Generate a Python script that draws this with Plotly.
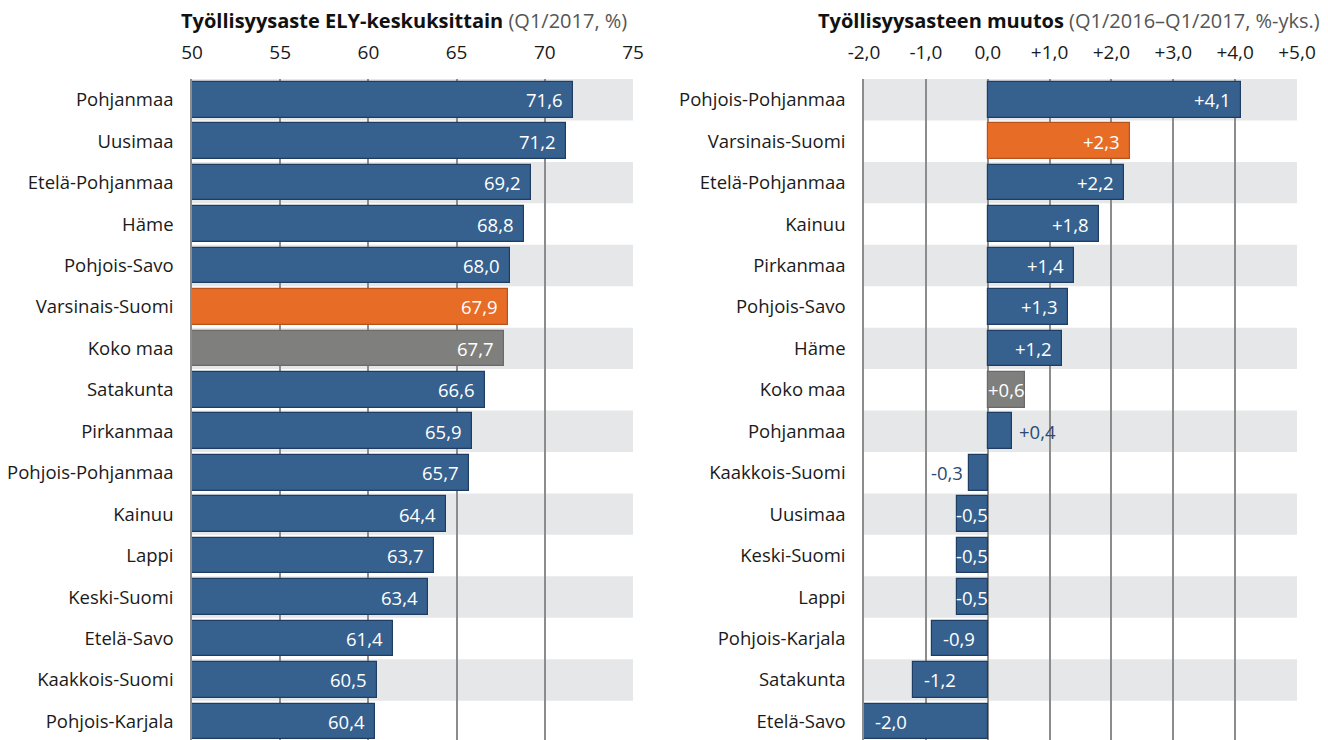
import plotly.graph_objects as go

# ---------------- data ----------------
left_categories = ["Pohjanmaa", "Uusimaa", "Etelä-Pohjanmaa", "Häme", "Pohjois-Savo",
                   "Varsinais-Suomi", "Koko maa", "Satakunta", "Pirkanmaa",
                   "Pohjois-Pohjanmaa", "Kainuu", "Lappi", "Keski-Suomi",
                   "Etelä-Savo", "Kaakkois-Suomi", "Pohjois-Karjala"]
left_values = [71.6, 71.2, 69.2, 68.8, 68.0, 67.9, 67.7, 66.6, 65.9, 65.7,
               64.4, 63.7, 63.4, 61.4, 60.5, 60.4]

right_categories = ["Pohjois-Pohjanmaa", "Varsinais-Suomi", "Etelä-Pohjanmaa", "Kainuu",
                    "Pirkanmaa", "Pohjois-Savo", "Häme", "Koko maa", "Pohjanmaa",
                    "Kaakkois-Suomi", "Uusimaa", "Keski-Suomi", "Lappi",
                    "Pohjois-Karjala", "Satakunta", "Etelä-Savo"]
right_values = [4.1, 2.3, 2.2, 1.8, 1.4, 1.3, 1.2, 0.6, 0.4, -0.3, -0.5, -0.5,
                -0.5, -0.9, -1.2, -2.0]

left_ticks = [50, 55, 60, 65, 70, 75]
left_ticktext = ["50", "55", "60", "65", "70", "75"]
right_ticks = [-2, -1, 0, 1, 2, 3, 4, 5]
right_ticktext = ["-2,0", "-1,0", "0,0", "+1,0", "+2,0", "+3,0", "+4,0", "+5,0"]

left_title = "<b>Työllisyysaste ELY-keskuksittain</b>"
left_sub = " (Q1/2017, %)"
right_title = "<b>Työllisyysasteen muutos</b>"
right_sub = " (Q1/2016–Q1/2017, %-yks.)"

# ---------------- styles ----------------
FONT = "Open Sans"
W, H = 1328, 740
BLUE = "#36618f"
BLUE_LINE = "#1f3d63"
ORANGE = "#e76d27"
ORANGE_LINE = "#b9521a"
GREY = "#7f7f7d"
GREY_LINE = "#6a6a6a"
BAND = "#e6e7e8"
GRID = "#8c8c8c"
TEXT = "#1a1a1a"
DARKLABEL = "#2b4a72"


def colors_for(cats):
    fill, line = [], []
    for c in cats:
        if c == "Varsinais-Suomi":
            fill.append(ORANGE); line.append(ORANGE_LINE)
        elif c == "Koko maa":
            fill.append(GREY); line.append(GREY_LINE)
        else:
            fill.append(BLUE); line.append(BLUE_LINE)
    return fill, line


def fmt(v, signed=False):
    s = f"{abs(v):.1f}".replace(".", ",")
    if signed:
        return ("+" if v > 0 else "-") + s
    return s


L0, L1 = 192 / W, 633 / W
R0, R1 = 864 / W, 1297 / W

fig = go.Figure()

lf, ll = colors_for(left_categories)
fig.add_trace(go.Bar(x=left_values, y=list(range(len(left_categories))), orientation="h",
                     marker=dict(color=lf, line=dict(color=ll, width=1.2)),
                     width=0.86, xaxis="x", yaxis="y", showlegend=False, hoverinfo="skip"))
rf, rl = colors_for(right_categories)
fig.add_trace(go.Bar(x=right_values, y=list(range(len(right_categories))), orientation="h",
                     marker=dict(color=rf, line=dict(color=rl, width=1.2)),
                     width=0.86, xaxis="x2", yaxis="y2", showlegend=False, hoverinfo="skip"))

shapes = []
annotations = []
n = len(left_categories)
for i in range(0, n, 2):
    shapes.append(dict(type="rect", xref="x domain", yref="y", x0=0, x1=1,
                       y0=i - 0.5, y1=i + 0.5, fillcolor=BAND, line_width=0, layer="below"))
    shapes.append(dict(type="rect", xref="x2 domain", yref="y2", x0=0, x1=1,
                       y0=i - 0.5, y1=i + 0.5, fillcolor=BAND, line_width=0, layer="below"))

lab_font = dict(family=FONT, size=18.5)
for i, v in enumerate(left_values):
    annotations.append(dict(x=v, y=i, xref="x", yref="y", text=fmt(v), showarrow=False,
                            xanchor="right", xshift=-8, font=dict(lab_font, color="white")))

for i, v in enumerate(right_values):
    a = dict(y=i, xref="x2", yref="y2", text=fmt(v, True), showarrow=False)
    if v >= 1.0:
        a.update(x=v, xanchor="right", xshift=-8, font=dict(lab_font, color="white"))
    elif v >= 0.5:
        a.update(x=v / 2, xanchor="center", font=dict(lab_font, color="white"))
    elif v > 0:
        a.update(x=v, xanchor="left", xshift=5, font=dict(lab_font, color=DARKLABEL))
    elif v > -0.5:
        a.update(x=v, xanchor="right", xshift=-4, font=dict(lab_font, color=DARKLABEL))
    elif v > -0.6:
        a.update(x=v / 2, xanchor="center", font=dict(lab_font, color="white"))
    else:
        a.update(x=v, xanchor="left", xshift=9, font=dict(lab_font, color="white"))
    annotations.append(a)

annotations.append(dict(x=404 / W, y=1, xref="paper", yref="paper", yanchor="middle", yshift=59,
                        text=left_title + f"<span style='color:#555555'>{left_sub}</span>",
                        showarrow=False, xanchor="center",
                        font=dict(family=FONT, size=20, color="#111111")))
annotations.append(dict(x=1069 / W, y=1, xref="paper", yref="paper", yanchor="middle", yshift=59,
                        text=right_title + f"<span style='color:#555555'>{right_sub}</span>",
                        showarrow=False, xanchor="center",
                        font=dict(family=FONT, size=20, color="#111111")))

yrange = [15.45, -0.5]
xcommon = dict(side="top", showgrid=True, gridcolor=GRID, gridwidth=1.5, zeroline=False,
               ticks="outside", ticklen=0, ticklabelstandoff=11, showline=False,
               automargin=False,
               tickfont=dict(family=FONT, size=19, color=TEXT), fixedrange=True)
ycommon = dict(showgrid=False, zeroline=False, ticks="outside", ticklen=0,
               ticklabelstandoff=13, tickfont=dict(family=FONT, size=18.5, color=TEXT),
               range=yrange, tickmode="array", domain=[0, 1], fixedrange=True,
               automargin=False, showline=True, linecolor=GRID, linewidth=1.5)

fig.update_layout(
    width=W, height=H,
    margin=dict(l=0, r=0, t=79, b=0),
    paper_bgcolor="white", plot_bgcolor="rgba(0,0,0,0)",
    xaxis=dict(xcommon, domain=[L0, L1], range=[50, 75], tickvals=left_ticks,
               ticktext=left_ticktext, anchor="y"),
    yaxis=dict(ycommon, anchor="x", tickvals=list(range(n)), ticktext=left_categories),
    xaxis2=dict(xcommon, domain=[R0, R1], range=[-2, 5], tickvals=right_ticks,
                ticktext=right_ticktext, anchor="y2"),
    yaxis2=dict(ycommon, anchor="x2", tickvals=list(range(n)), ticktext=right_categories),
    shapes=shapes, annotations=annotations, bargap=0,
)

fig.write_html("out.html", config={"displayModeBar": False},
               post_script="document.body.style.margin='0';document.body.style.overflow='hidden';")
